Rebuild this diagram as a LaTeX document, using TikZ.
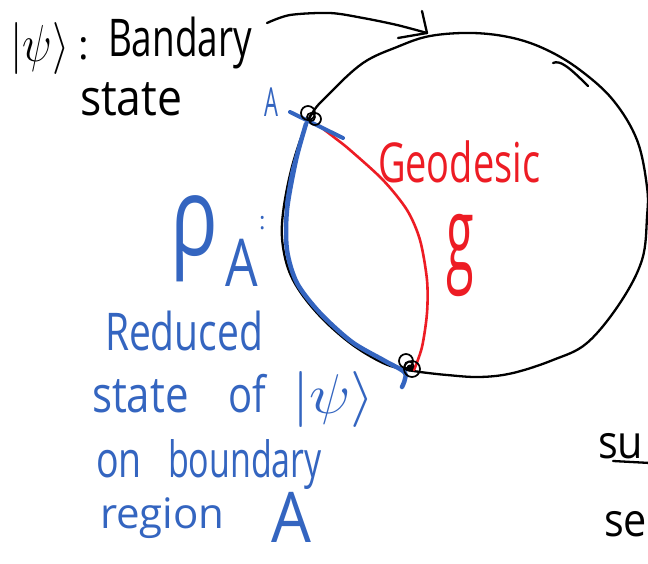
\RequirePackage{fix-cm}
\documentclass[tikz,border=0pt]{standalone}
\usepackage{fontspec}
\usepackage{graphicx}
\setmainfont{Open Sans}
\definecolor{inkblue}{HTML}{3465C0}
\definecolor{inkred}{HTML}{ED1C24}
\tikzset{
  ink/.style={line width=2.3pt, line cap=round, line join=round},
  hw/.style={inner sep=0pt, outer sep=0pt, anchor=base west},
  endmark/.style={line width=1.7pt, black},
}
\newcommand{\hwt}[3]{\fontsize{#1}{#1}\selectfont\scalebox{#2}[1]{#3}}
\begin{document}
\begin{tikzpicture}[x=1pt,y=-1pt]
\clip (0,0) rectangle (648,564);
\fill[white] (0,0) rectangle (648,564);

% boundary circle
\draw[ink] plot[smooth cycle, tension=0.6] coordinates {(310,117) (330,93) (363,63) (397,47) (430,36) (473,33) (513,38) (547,50) (580,70) (613,100) (637,140) (647,187) (647,217) (642,260) (620,303) (587,343) (553,360) (513,373) (480,377) (447,375) (420,372) (407,370) (383,363) (350,343) (317,313) (293,280) (283,247) (283,213) (293,163)};

% geodesic
\draw[ink, inkred, line width=2.6pt] plot[smooth] coordinates {(318,125) (335,138) (350,150) (383,180) (407,210) (420,240) (427,280) (427,313) (422,347) (414,370)};

% region A (blue)
\draw[inkblue, line width=4pt, line cap=round] (290,112) -- (343,138);
\draw[inkblue, line width=4.5pt, line cap=round, line join=round] plot[smooth] coordinates {(306,124) (296,160) (287,210) (287,250) (297,283) (320,313) (352,342) (385,361) (405,373) (402,387)};
\draw[inkblue, line width=2.5pt, line cap=round] plot[smooth] coordinates {(304,130) (292,170) (286,205)};

% end-point markers
\draw[endmark] (308,113) circle (7);
\draw[endmark] (315,119) circle (6);
\draw[endmark] (311,117) circle (4);
\draw[endmark] (406,361) circle (7);
\draw[endmark] (412,369) circle (8);
\draw[endmark] (409,366) circle (4.5);
\fill[black] (410,368) circle (3.5);

% arrow from label to circle
\coordinate (arrS) at (267,23);
\coordinate (arrE) at (427,33);
\draw[ink] plot[smooth] coordinates {(arrS) (290,15) (330,13) (363,18) (397,25) (arrE)};
\draw[ink] (422,11) -- (arrE) -- (398,38);

% tick on circle
\draw[ink] (553,63) .. controls (560,60) and (568,66) .. (588,86);

% black text
\node[hw] (ket) at (10,62) {\hwt{52}{0.85}{$|\psi\rangle$}};
\node[hw] (colon) at (78,60) {\hwt{40}{1}{:}};
\node[hw] (bnd) at (108,57) {\hwt{52}{0.71}{Bandary}};
\node[hw] (st) at (80,116) {\hwt{50}{0.89}{state}};
\node[hw] (su) at (598,458) {\hwt{46}{0.9}{su}};
\draw[ink] (613,461) -- (650,463);
\node[hw] (se) at (604,536) {\hwt{46}{0.9}{se}};

% blue text
\node[hw, text=inkblue] (lA) at (264,117) {\hwt{40}{0.55}{A}};
\node[hw, text=inkblue] (rho) at (170,255) {\hwt{110}{0.72}{ρ}};
\node[hw, text=inkblue] (rhoA) at (225,287) {\hwt{66}{0.78}{A}};
\node[hw, text=inkblue] (rc) at (259,230) {\hwt{24}{1}{:}};
\node[hw, text=inkblue] (red) at (105,350) {\hwt{52}{0.75}{Reduced}};
\node[hw, text=inkblue] (st2) at (92,412) {\hwt{50}{0.84}{state}};
\node[hw, text=inkblue] (of) at (228,412) {\hwt{50}{0.8}{of}};
\node[hw, text=inkblue] (ket2) at (292,413) {\hwt{56}{1.1}{$|\psi\rangle$}};
\node[hw, text=inkblue] (on) at (96,477) {\hwt{50}{0.75}{on}};
\node[hw, text=inkblue] (bd) at (168,477) {\hwt{50}{0.68}{boundary}};
\node[hw, text=inkblue] (rg) at (100,528) {\hwt{42}{1.0}{region}};
\node[hw, text=inkblue] (bigA) at (271,542) {\hwt{70}{0.9}{A}};

% red text
\node[hw, text=inkred] (geo) at (378,183) {\hwt{55}{0.69}{Geodesic}};
\node[hw, text=inkred] (g) at (446,272) {\hwt{105}{0.48}{g}};
\end{tikzpicture}
\end{document}
